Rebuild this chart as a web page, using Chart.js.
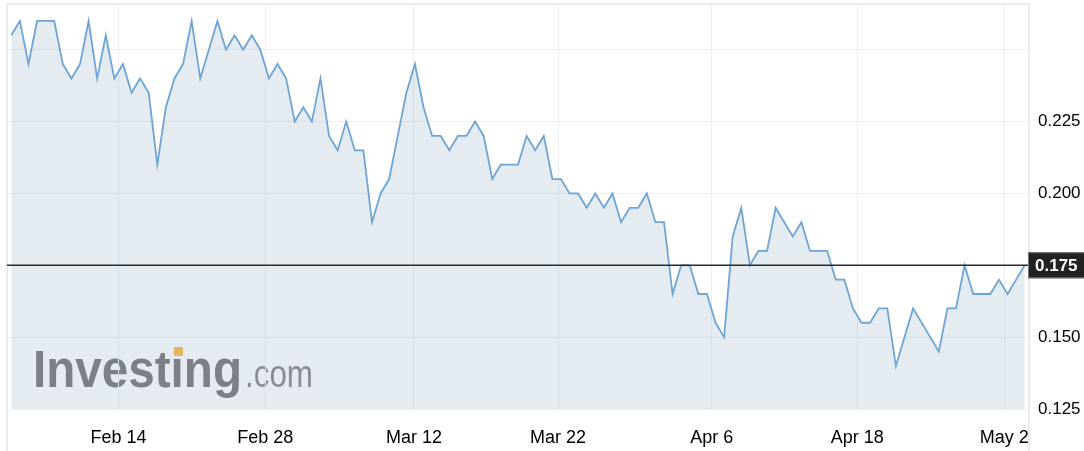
<!DOCTYPE html>
<html>
<head>
<meta charset="utf-8">
<script src="https://cdn.jsdelivr.net/npm/chart.js@4.4.1/dist/chart.umd.min.js"></script>
<style>
  html, body { margin: 0; padding: 0; background: #fff; }
  #wrap { width: 1084px; height: 451px; }
</style>
</head>
<body>
<div id="wrap"><canvas id="priceChart" width="1084" height="451"></canvas></div>
<script>
const prices = [
  0.255, 0.260, 0.245, 0.260, 0.260, 0.260, 0.245, 0.240, 0.245, 0.260,
  0.240, 0.255, 0.240, 0.245, 0.235, 0.240, 0.235, 0.210, 0.230, 0.240,
  0.245, 0.260, 0.240, 0.250, 0.260, 0.250, 0.255, 0.250, 0.255, 0.250,
  0.240, 0.245, 0.240, 0.225, 0.230, 0.225, 0.240, 0.220, 0.215, 0.225,
  0.215, 0.215, 0.190, 0.200, 0.205, 0.220, 0.235, 0.245, 0.230, 0.220,
  0.220, 0.215, 0.220, 0.220, 0.225, 0.220, 0.205, 0.210, 0.210, 0.210,
  0.220, 0.215, 0.220, 0.205, 0.205, 0.200, 0.200, 0.195, 0.200, 0.195,
  0.200, 0.190, 0.195, 0.195, 0.200, 0.190, 0.190, 0.165, 0.175, 0.175,
  0.165, 0.165, 0.155, 0.150, 0.185, 0.195, 0.175, 0.180, 0.180, 0.195,
  0.190, 0.185, 0.190, 0.180, 0.180, 0.180, 0.170, 0.170, 0.160, 0.155,
  0.155, 0.160, 0.160, 0.140, 0.150, 0.160, 0.155, 0.150, 0.145, 0.160,
  0.160, 0.175, 0.165, 0.165, 0.165, 0.170, 0.165, 0.170, 0.175
];

// Datumsbeschriftungen der x-Achse und ihre Lage (in Punkt-Index)
const dateLabels = ['Feb 14', 'Feb 28', 'Mar 12', 'Mar 22', 'Apr 6', 'Apr 18', 'May 2'];
const dateTickPos = [12.49, 29.58, 46.89, 63.67, 81.57, 98.49, 115.62];

// y-Achse
const yTicks = [0.125, 0.150, 0.175, 0.200, 0.225, 0.250];
const yHiddenLabels = [0.250, 0.175];
const yMin = 0.125;
const yMax = 0.2659;

const lastPrice = prices[prices.length - 1];
const FONT = '"Liberation Sans", Arial, Helvetica, sans-serif';

// Rahmen, Wasserzeichen, aktuelle Kurslinie und Kursbox
const decorPlugin = {
  id: 'decor',
  beforeDraw(chart) {
    const ctx = chart.ctx;
    ctx.save();
    // Wasserzeichen (unter Gitter und Fläche)
    ctx.textBaseline = 'alphabetic';
    ctx.font = 'bold 51px ' + FONT;
    let w = ctx.measureText('Investing').width;
    ctx.save();
    ctx.translate(33, 387);
    ctx.scale(209 / w, 1);
    ctx.fillStyle = '#777274';
    ctx.fillText('Investing', 0, 0);
    ctx.restore();
    ctx.fillStyle = '#ffb546';
    ctx.fillRect(174, 347, 9, 9);
    ctx.font = '38px ' + FONT;
    w = ctx.measureText('.com').width;
    ctx.save();
    ctx.translate(245, 387);
    ctx.scale(68 / w, 1);
    ctx.fillStyle = '#898383';
    ctx.fillText('.com', 0, 0);
    ctx.restore();
    ctx.restore();
  },
  afterDatasetsDraw(chart) {
    const ctx = chart.ctx;
    const area = chart.chartArea;
    const y = chart.scales.y.getPixelForValue(lastPrice);
    ctx.save();
    // Rahmen
    ctx.strokeStyle = '#e3e7eb';
    ctx.lineWidth = 1.5;
    ctx.beginPath();
    ctx.moveTo(area.left, chart.height);
    ctx.lineTo(area.left, area.top);
    ctx.lineTo(area.right, area.top);
    ctx.lineTo(area.right, chart.height);
    ctx.stroke();
    // Linie beim letzten Kurs
    ctx.strokeStyle = '#2b2b2b';
    ctx.lineWidth = 1.6;
    ctx.beginPath();
    ctx.moveTo(area.left, y);
    ctx.lineTo(area.right, y);
    ctx.stroke();
    // Kursbox
    ctx.fillStyle = '#222';
    ctx.fillRect(area.right - 1, y - 13, chart.width - area.right + 1, 26);
    ctx.strokeStyle = '#777';
    ctx.lineWidth = 1;
    ctx.strokeRect(area.right - 0.5, y - 12.5, chart.width - area.right + 2, 25);
    ctx.fillStyle = '#fff';
    ctx.font = 'bold 17px ' + FONT;
    ctx.textBaseline = 'middle';
    ctx.textAlign = 'left';
    ctx.fillText(lastPrice.toFixed(3), area.right + 6, y + 1);
    ctx.restore();
  }
};

const ctx = document.getElementById('priceChart').getContext('2d');
new Chart(ctx, {
  type: 'line',
  data: {
    datasets: [{
      data: prices.map((p, i) => ({ x: i, y: p })),
      borderColor: '#6fa5d6',
      borderWidth: 1.8,
      backgroundColor: 'rgba(140, 175, 200, 0.23)',
      fill: 'start',
      tension: 0,
      pointRadius: 0
    }]
  },
  options: {
    responsive: false,
    animation: false,
    devicePixelRatio: 1,
    layout: { padding: { left: 7, top: 4, right: 0, bottom: 0 } },
    plugins: { legend: { display: false }, tooltip: { enabled: false } },
    scales: {
      x: {
        type: 'linear',
        min: -0.5,
        max: 118.5,
        afterBuildTicks: (scale) => { scale.ticks = dateTickPos.map(v => ({ value: v })); },
        afterFit: (scale) => { scale.height = 42; scale.paddingLeft = 0; scale.paddingRight = 0; },
        grid: { color: '#eceef1', lineWidth: 1, drawTicks: false },
        border: { display: false },
        ticks: {
          autoSkip: false,
          maxRotation: 0,
          padding: 18,
          color: '#000',
          font: { family: FONT, size: 18 },
          callback: (v) => {
            const k = dateTickPos.findIndex(p => Math.abs(p - v) < 0.01);
            return k >= 0 ? dateLabels[k] : '';
          }
        }
      },
      y: {
        position: 'right',
        min: yMin,
        max: yMax,
        afterBuildTicks: (scale) => { scale.ticks = yTicks.map(v => ({ value: v })); },
        afterFit: (scale) => { scale.width = 55; scale.paddingTop = 0; scale.paddingBottom = 0; },
        grid: { color: '#eceef1', lineWidth: 1, drawTicks: false },
        border: { display: false },
        ticks: {
          padding: 9,
          color: '#000',
          font: { family: FONT, size: 17 },
          callback: (v) => yHiddenLabels.some(h => Math.abs(h - v) < 1e-6) ? '' : v.toFixed(3)
        }
      }
    }
  },
  plugins: [decorPlugin]
});
</script>
</body>
</html>
